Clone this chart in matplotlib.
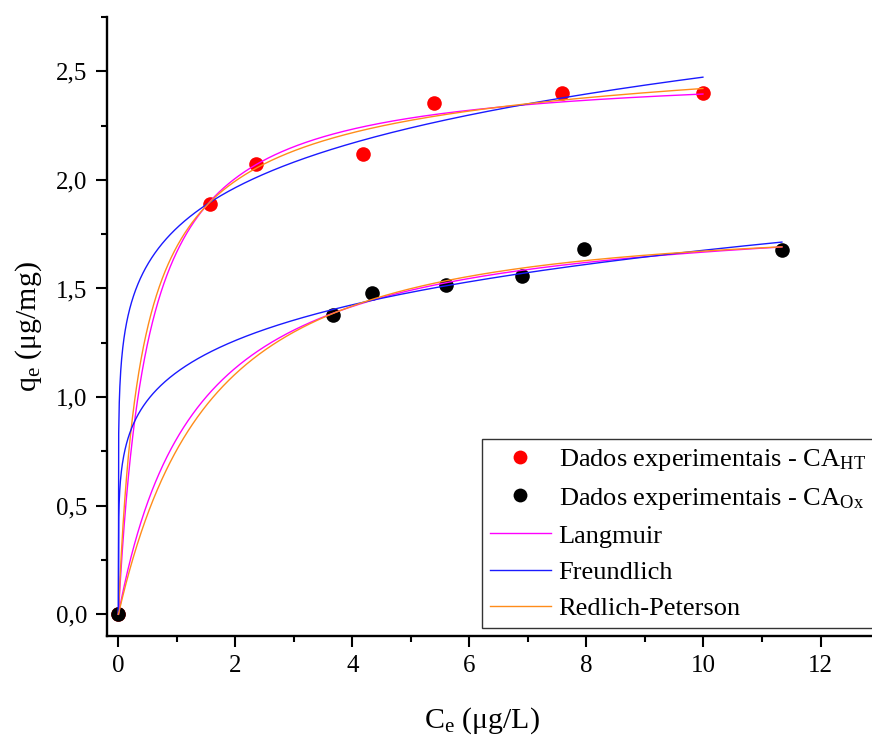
import numpy as np
import matplotlib
matplotlib.use("Agg")
import matplotlib.pyplot as plt
from matplotlib.lines import Line2D
from matplotlib.ticker import MultipleLocator, FuncFormatter

plt.rcParams["font.family"] = ["Liberation Serif", "DejaVu Serif"]
plt.rcParams["mathtext.fontset"] = "custom"
plt.rcParams["mathtext.rm"] = "Liberation Serif"
plt.rcParams["mathtext.it"] = "Liberation Serif:italic"
plt.rcParams["mathtext.bf"] = "Liberation Serif:bold"

# Experimental equilibrium data: Ce (ug/L) and qe (ug/mg)
ce_ht = [0.0, 1.56, 2.35, 4.18, 5.40, 7.59, 9.99]
qe_ht = [0.0, 1.891, 2.075, 2.121, 2.352, 2.402, 2.400]
ce_ox = [0.0, 3.66, 4.34, 5.60, 6.90, 7.96, 11.34]
qe_ox = [0.0, 1.376, 1.480, 1.514, 1.557, 1.680, 1.676]

# Fitted isotherm parameters
langmuir_ht = [2.517, 1.97]            # qmax, KL
langmuir_ox = [1.89, 0.75]
freundlich_ht = [1.779, 0.1431]        # KF, 1/n
freundlich_ox = [1.115, 0.177]
redlich_ht = [6.4767, 2.8236, 0.96]    # KR, aR, g
redlich_ox = [1.159, 0.5286, 1.05]

legend_labels = [
    r"Dados experimentais - CA$_{\mathregular{HT}}$",
    r"Dados experimentais - CA$_{\mathregular{Ox}}$",
    "Langmuir",
    "Freundlich",
    "Redlich-Peterson",
]


def langmuir(c, p):
    return p[0] * p[1] * c / (1.0 + p[1] * c)


def freundlich(c, p):
    return p[0] * np.power(c, p[1])


def redlich(c, p):
    return p[0] * c / (1.0 + p[1] * np.power(c, p[2]))


fig = plt.figure(figsize=(8.72, 7.4), dpi=100)
ax = fig.add_axes([106.7 / 872, 104 / 740, 1 - 106.7 / 872, 619 / 740])

ms = 10.5
ax.plot(ce_ht, qe_ht, "o", color="#ff0000", ms=ms, mew=0, zorder=2)
ax.plot(ce_ox, qe_ox, "o", color="#000000", ms=ms, mew=0, zorder=2)

col_l, col_f, col_r = "#ff00ff", "#1a1aff", "#ff8c1a"
lw = 1.0
for ce, pl, pf, pr in [(ce_ht, langmuir_ht, freundlich_ht, redlich_ht),
                       (ce_ox, langmuir_ox, freundlich_ox, redlich_ox)]:
    c = np.linspace(0.0, max(ce), 2001)
    ax.plot(c, langmuir(c, pl), color=col_l, lw=lw, zorder=3)
    ax.plot(c, freundlich(c, pf), color=col_f, lw=lw, zorder=3)
    ax.plot(c, redlich(c, pr), color=col_r, lw=lw, zorder=3)

ax.set_xlim(-0.2, 12.88)
ax.set_ylim(-0.1, 2.75)

for s in ("top", "right"):
    ax.spines[s].set_visible(False)
for s in ("left", "bottom"):
    ax.spines[s].set_linewidth(1.7)

ax.xaxis.set_major_locator(MultipleLocator(2))
ax.xaxis.set_minor_locator(MultipleLocator(1))
ax.yaxis.set_major_locator(MultipleLocator(0.5))
ax.yaxis.set_minor_locator(MultipleLocator(0.25))
ax.yaxis.set_major_formatter(FuncFormatter(lambda v, _: f"{v:.1f}".replace(".", ",")))
ax.tick_params(which="major", direction="out", length=8, width=1.5,
               labelsize=18, pad=6)
ax.tick_params(which="minor", direction="out", length=4.5, width=1.5)

ax.set_xlabel(r"C$_{\mathregular{e}}$ (μg/L)", fontsize=21.5)
ax.set_ylabel(r"q$_{\mathregular{e}}$ (μg/mg)", fontsize=21.5)
ax.xaxis.set_label_coords(0.49, -0.112)
ax.yaxis.set_label_coords(-0.082, 0.5)

handles = [
    Line2D([], [], ls="none", marker="o", color="#ff0000", ms=ms * 0.95, mew=0),
    Line2D([], [], ls="none", marker="o", color="#000000", ms=ms * 0.95, mew=0),
    Line2D([], [], color=col_l, lw=lw),
    Line2D([], [], color=col_f, lw=lw),
    Line2D([], [], color=col_r, lw=lw),
]
leg = ax.legend(handles, legend_labels, loc="upper left",
                bbox_to_anchor=(482 / 872, 1 - 439 / 740),
                bbox_transform=fig.transFigure, borderaxespad=0,
                fontsize=19, handlelength=2.3, handletextpad=0.3,
                borderpad=0.3, labelspacing=0.48, fancybox=False,
                framealpha=1, edgecolor="#333333")
leg.get_frame().set_linewidth(1.0)

fig.savefig("out.png", dpi=100)
